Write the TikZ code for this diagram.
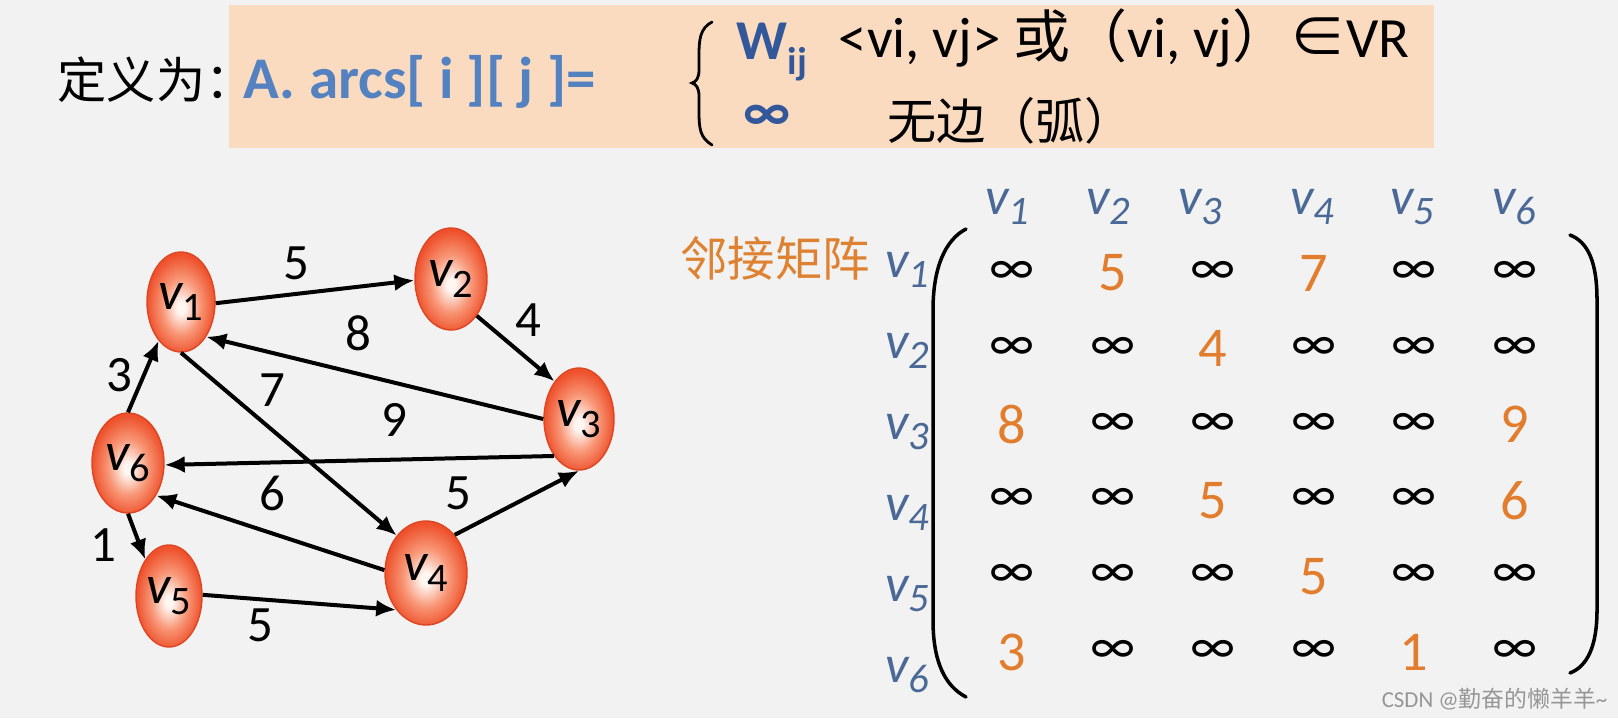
\documentclass[tikz,border=0pt]{standalone}
\usepackage{fontspec}
\setmainfont{Carlito}
\newfontfamily\cjk{Noto Sans CJK SC}
\usetikzlibrary{shapes.geometric,arrows.meta}

\definecolor{bgc}{RGB}{242,242,242}
\definecolor{peach}{RGB}{251,219,192}
\definecolor{arcblue}{RGB}{84,130,192}
\definecolor{wblue}{RGB}{50,88,155}
\definecolor{hdrblue}{RGB}{74,105,150}
\definecolor{numor}{RGB}{226,125,45}
\definecolor{titleor}{RGB}{222,130,50}
\definecolor{vin}{RGB}{255,246,242}
\definecolor{vmid}{RGB}{248,150,118}
\definecolor{vout}{RGB}{238,82,45}
\definecolor{vedge}{RGB}{222,70,35}
\definecolor{wmgray}{RGB}{150,150,150}
\pgfdeclareradialshading{vball}{\pgfpoint{0bp}{-3bp}}{color(0bp)=(vin); color(3bp)=(vin); color(14bp)=(vmid); color(25bp)=(vout); color(50bp)=(vout)}

\newcommand{\gv}[1]{{\fontsize{15.5}{15.5}\selectfont\itshape v}\raisebox{-3.2pt}{\fontsize{11.5}{11.5}\selectfont #1}}
\newcommand{\hv}[1]{{\fontsize{15}{15}\selectfont\itshape v\raisebox{-3pt}{\fontsize{11.5}{11.5}\selectfont #1}}}

\tikzset{
  vtx/.style={ellipse, draw=vedge, line width=0.4pt, shading=vball, inner sep=0pt, text=black},
  edge/.style={line width=0.4mm, -{Latex[length=2mm,width=1.7mm]}},
  wlab/.style={font=\fontsize{14.5}{14.5}\selectfont, text=black, inner sep=0pt},
  infent/.style={font=\fontsize{15}{15}\selectfont, text=black, inner sep=0pt},
  nument/.style={font=\fontsize{16}{16}\selectfont, text=numor, inner sep=0pt},
  hdr/.style={text=hdrblue, inner sep=0pt},
  paren/.style={line width=1pt, line cap=round},
}

\begin{document}
\begin{tikzpicture}[x=0.1mm, y=-0.1mm]
\useasboundingbox (0,0) rectangle (1618,718);
\fill[bgc] (0,0) rectangle (1618,718);

% ---------- top definition bar ----------
\fill[peach] (229,5) rectangle (1434,148);
\node[anchor=base west, inner sep=0pt, font=\cjk\fontsize{14}{14}\selectfont] (def) at (57,98) {定义为：};
\node[anchor=base west, inner sep=0pt, text=arcblue, font=\bfseries\fontsize{16.8}{16.8}\selectfont] (arcs) at (243,98) {A. arcs[ i ][ j ]=};
\draw[line width=0.8pt, line cap=round] (712,22) .. controls (700,28) and (699,40) .. (699,55) -- (699,70) .. controls (699,78) and (696,82) .. (692,83) .. controls (696,84) and (699,88) .. (699,96) -- (699,112) .. controls (699,128) and (700,138) .. (712,145);
\node[anchor=base west, inner sep=0pt, text=wblue, font=\bfseries\fontsize{16}{16}\selectfont] (wij) at (736,60) {W\raisebox{-4pt}{\fontsize{11}{11}\selectfont ij}};
\node[anchor=base west, inner sep=0pt, font=\fontsize{16.2}{16.2}\selectfont] (cond) at (838,57) {<vi, vj> {\cjk 或（}vi, vj{\cjk ）∈}VR};
\node[inner sep=0pt, text=wblue, font=\bfseries\fontsize{16}{16}\selectfont] (infty) at (767,118) {∞};
\node[anchor=base west, inner sep=0pt, font=\cjk\fontsize{14}{14}\selectfont] (noedge) at (887,139) {无边（弧）};

% ---------- graph ----------
\node[vtx, minimum width=6.8mm, minimum height=10mm] (v1) at (181,302) {\gv{1}};
\node[vtx, minimum width=7.2mm, minimum height=10.2mm] (v2) at (451,279) {\gv{2}};
\node[vtx, minimum width=7mm, minimum height=10.2mm] (v3) at (579,419) {\gv{3}};
\node[vtx, minimum width=8.2mm, minimum height=10.4mm] (v4) at (426,573) {\gv{4}};
\node[vtx, minimum width=6.6mm, minimum height=10.2mm] (v5) at (169,596) {\gv{5}};
\node[vtx, minimum width=7.2mm, minimum height=10mm] (v6) at (128,463) {\gv{6}};

\draw[edge] (v1.-2) -- (v2.-178);
\draw[edge] (v2.-55) -- (v3.123);
\draw[edge] (v3.180) -- (v1.-54);
\draw[edge] (v1.-90) -- (v4.128);
\draw[edge] (v3.-124) -- (v6.-3);
\draw[edge] (v4.53) -- (v3.-90);
\draw[edge] (v4.176) -- (v6.-49);
\draw[edge] (v6.90) -- (v1.-120);
\draw[edge] (v6.-90) -- (v5.123);
\draw[edge] (v5.2) -- (v4.-129);

\node[wlab] (w12) at (296,263) {5};
\node[wlab] (w23) at (528,320) {4};
\node[wlab] (w31) at (358,333) {8};
\node[wlab] (w14) at (272,390) {7};
\node[wlab] (w36) at (394,420) {9};
\node[wlab] (w46) at (272,493) {6};
\node[wlab] (w43) at (458,493) {5};
\node[wlab] (w61) at (119,375) {3};
\node[wlab] (w65) at (103,545) {1};
\node[wlab] (w54) at (260,625) {5};

% ---------- adjacency matrix ----------
\node[inner sep=0pt, text=titleor, font=\cjk\fontsize{13.5}{13.5}\selectfont] (title) at (775,258) {邻接矩阵};

\node[hdr] (c1) at (1007,207) {\hv{1}};
\node[hdr] (c2) at (1108,207) {\hv{2}};
\node[hdr] (c3) at (1200,207) {\hv{3}};
\node[hdr] (c4) at (1312,207) {\hv{4}};
\node[hdr] (c5) at (1412,207) {\hv{5}};
\node[hdr] (c6) at (1514,207) {\hv{6}};

\node[hdr] (r1) at (907,270) {\hv{1}};
\node[hdr] (r2) at (907,351) {\hv{2}};
\node[hdr] (r3) at (907,432) {\hv{3}};
\node[hdr] (r4) at (907,513) {\hv{4}};
\node[hdr] (r5) at (907,594) {\hv{5}};
\node[hdr] (r6) at (907,675) {\hv{6}};

\draw[paren] (966,229) .. controls (945,240) and (933,268) .. (933,310) -- (933,620) .. controls (933,662) and (945,686) .. (966,697);
\draw[paren] (1570,235) .. controls (1588,242) and (1597,262) .. (1597,300) -- (1597,610) .. controls (1597,645) and (1588,666) .. (1570,673);

\def\infsym{i}
\foreach \row [count=\r] in {{i,5,i,7,i,i},{i,i,4,i,i,i},{8,i,i,i,i,9},{i,i,5,i,i,6},{i,i,i,5,i,i},{3,i,i,i,1,i}} {
  \foreach \val [count=\c] in \row {
    \ifx\val\infsym
      \node[infent] (m\r\c) at ({1012+100.5*(\c-1)},{273+75.8*(\r-1)}) {∞};
    \else
      \node[nument] (m\r\c) at ({1012+100.5*(\c-1)},{273+75.8*(\r-1)}) {\val};
    \fi
  }
}

% ---------- watermark ----------
\node[anchor=east, inner sep=0pt, text=wmgray, font=\fontsize{6.5}{6.5}\selectfont] (wm) at (1608,699) {CSDN @{\cjk 勤奋的懒羊羊}\textasciitilde};
\end{tikzpicture}
\end{document}
